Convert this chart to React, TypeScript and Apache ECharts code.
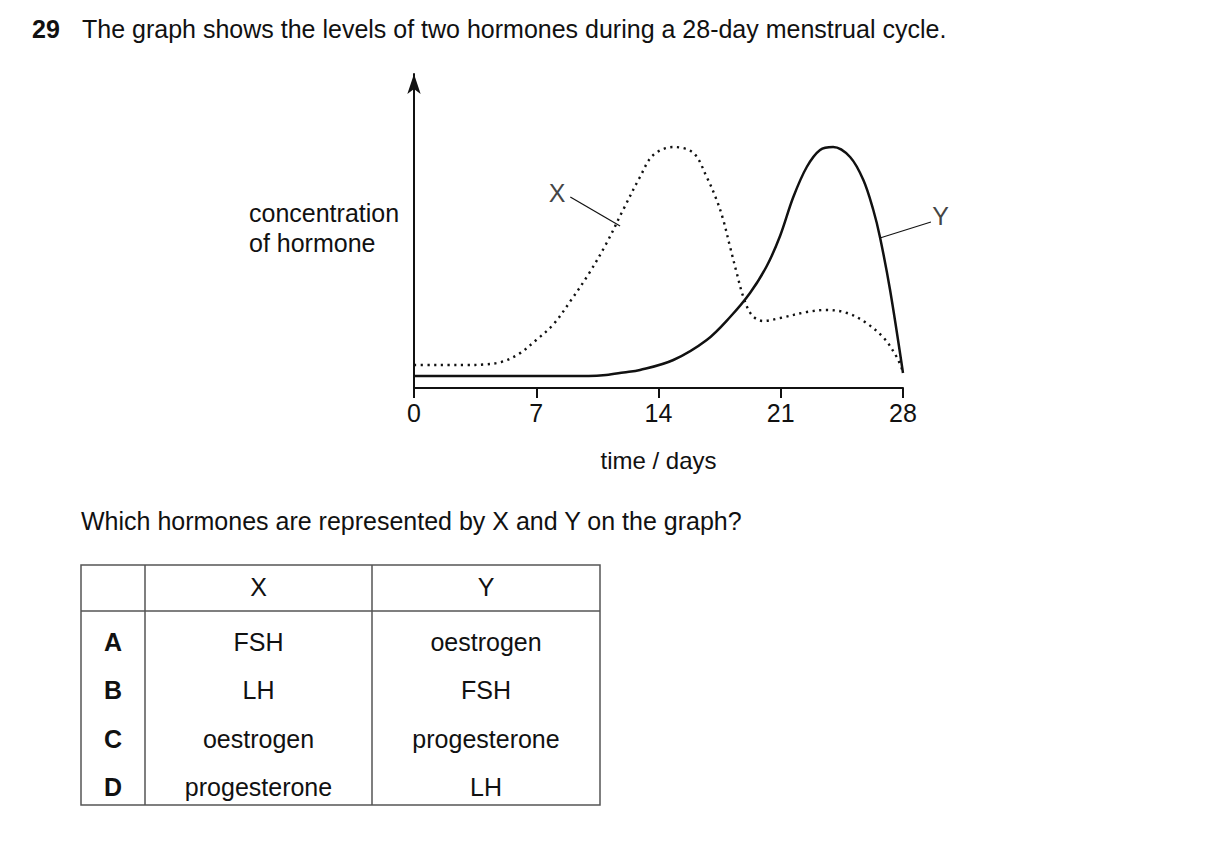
import React, { useEffect, useRef } from "react";
import * as echarts from "echarts";

// Hormone X (dotted): day, relative concentration
const xDays = [0, 1, 2, 3, 4, 5, 6, 7, 8, 9, 10, 11, 12, 12.94, 13.7, 14.85, 16.0, 16.76, 17.33, 17.71, 18.1, 18.48, 18.86, 19.34, 20.0, 20.96, 22.5, 23.6, 24.8, 25.9, 26.9, 27.64, 28];
const xValues = [23, 23, 23, 23, 23.5, 26, 34, 48, 64, 88, 114, 144, 179, 211, 233, 241, 235, 211, 188, 168, 141, 115, 91, 73, 67, 70, 76, 78, 75, 65, 50, 31, 16];

// Hormone Y (solid)
const yDays = [0, 2, 4, 6, 8, 10, 11, 12, 12.94, 14.85, 16.76, 18.1, 19.24, 20.2, 20.96, 21.72, 22.49, 23.25, 24.0, 24.97, 25.73, 26.3, 26.68, 27.26, 28];
const yValues = [12, 12, 12, 12, 12, 12, 13, 15.5, 18, 28, 48, 71, 95, 122, 152, 191, 221, 238, 241, 231, 208, 178, 151, 98, 15];

// Curve labels and their leader lines [day, value]
const curveLabels = [
  { name: "X", at: [8.2, 195], line: [[8.95, 191], [11.8, 162]] },
  { name: "Y", at: [30.15, 172], line: [[26.68, 150], [29.6, 166]] },
];

const dayTicks = [0, 7, 14, 21, 28];

const titleNumber = "29";
const titleText = "The graph shows the levels of two hormones during a 28-day menstrual cycle.";
const yAxisLines = ["concentration", "of hormone"];
const xAxisName = "time / days";
const questionText = "Which hormones are represented by X and Y on the graph?";

const tableHeader = ["", "X", "Y"];
const tableLetters = ["A", "B", "C", "D"];
const tableX = ["FSH", "LH", "oestrogen", "progesterone"];
const tableY = ["oestrogen", "FSH", "progesterone", "LH"];

const FONT = "'Liberation Sans', Arial, Helvetica, sans-serif";
const INK = "#111";

export default function App() {
  const ref = useRef<HTMLDivElement>(null);

  useEffect(() => {
    if (!ref.current) return;
    const chart = echarts.init(ref.current, null, { renderer: "svg", width: 1209, height: 856 });

    const fs = 25;
    const txt = (text: string, x: number, y: number, opts: any = {}) => ({
      type: "text",
      x,
      y,
      style: {
        text,
        fontSize: fs,
        fontFamily: FONT,
        fill: INK,
        textVerticalAlign: "middle",
        textAlign: "left",
        ...opts,
      },
    });

    // table geometry
    const tL = 81, tR = 600, tT = 565, tB = 805, c1 = 145, c2 = 372, hB = 611;
    const rowY = [642, 690, 739, 787];
    const tableStroke = { stroke: "#555", lineWidth: 1.5 };
    const graphics: any[] = [
      txt(titleNumber, 32, 29, { fontWeight: "bold" }),
      txt(titleText, 82, 29),
      txt(yAxisLines[0], 249, 213),
      txt(yAxisLines[1], 249, 243),
      txt(questionText, 81, 521),
      { type: "rect", shape: { x: tL, y: tT, width: tR - tL, height: tB - tT }, style: { fill: "none", ...tableStroke } },
      { type: "line", shape: { x1: c1, y1: tT, x2: c1, y2: tB }, style: tableStroke },
      { type: "line", shape: { x1: c2, y1: tT, x2: c2, y2: tB }, style: tableStroke },
      { type: "line", shape: { x1: tL, y1: hB, x2: tR, y2: hB }, style: tableStroke },
      txt(tableHeader[1], (c1 + c2) / 2, 587, { textAlign: "center" }),
      txt(tableHeader[2], (c2 + tR) / 2, 587, { textAlign: "center" }),
    ];
    tableLetters.forEach((l, i) => {
      graphics.push(txt(l, (tL + c1) / 2, rowY[i], { textAlign: "center", fontWeight: "bold" }));
      graphics.push(txt(tableX[i], (c1 + c2) / 2, rowY[i], { textAlign: "center" }));
      graphics.push(txt(tableY[i], (c2 + tR) / 2, rowY[i], { textAlign: "center" }));
    });

    chart.setOption({
      animation: false,
      backgroundColor: "#fff",
      grid: { left: 414, right: 1209 - 903, top: 74, bottom: 856 - 388, containLabel: false },
      xAxis: {
        type: "value",
        min: 0,
        max: 28,
        interval: 7,
        name: xAxisName,
        nameLocation: "middle",
        nameGap: 60,
        nameTextStyle: { fontSize: 24, fontFamily: FONT, color: INK },
        axisLine: { show: true, lineStyle: { color: INK, width: 2 } },
        axisTick: { show: true, length: 10, lineStyle: { color: INK, width: 2 } },
        axisLabel: {
          fontSize: fs,
          fontFamily: FONT,
          color: INK,
          margin: 12,
          formatter: (v: number) => (dayTicks.includes(v) ? String(v) : ""),
        },
        splitLine: { show: false },
      },
      yAxis: {
        type: "value",
        min: 0,
        max: 314,
        axisLine: {
          show: true,
          symbol: ["none", "arrow"],
          symbolSize: [10, 20],
          lineStyle: { color: INK, width: 2 },
        },
        axisTick: { show: false },
        axisLabel: { show: false },
        splitLine: { show: false },
      },
      graphic: graphics,
      series: [
        {
          type: "line",
          name: "X",
          data: xDays.map((d, i) => [d, xValues[i]]),
          smooth: 0.35,
          showSymbol: false,
          symbol: "none",
          lineStyle: { color: INK, width: 2.4, type: [2.2, 4.5] },
        },
        {
          type: "line",
          name: "Y",
          data: yDays.map((d, i) => [d, yValues[i]]),
          smooth: 0.35,
          showSymbol: false,
          symbol: "none",
          lineStyle: { color: INK, width: 2.5, type: "solid" },
        },
        {
          type: "lines",
          coordinateSystem: "cartesian2d",
          clip: false,
          polyline: false,
          lineStyle: { color: INK, width: 1.2, opacity: 1 },
          data: curveLabels.map((c) => ({ coords: c.line })),
        },
        {
          type: "scatter",
          clip: false,
          symbolSize: 0,
          data: curveLabels.map((c) => ({ value: c.at, name: c.name })),
          label: {
            show: true,
            position: "inside",
            formatter: (p: any) => p.name,
            fontSize: fs,
            fontFamily: FONT,
            color: INK,
          },
        },
      ],
    });

    return () => chart.dispose();
  }, []);

  return (
    <div
      ref={ref}
      style={{ position: "fixed", left: 0, top: 0, width: 1209, height: 856, background: "#fff" }}
    />
  );
}
